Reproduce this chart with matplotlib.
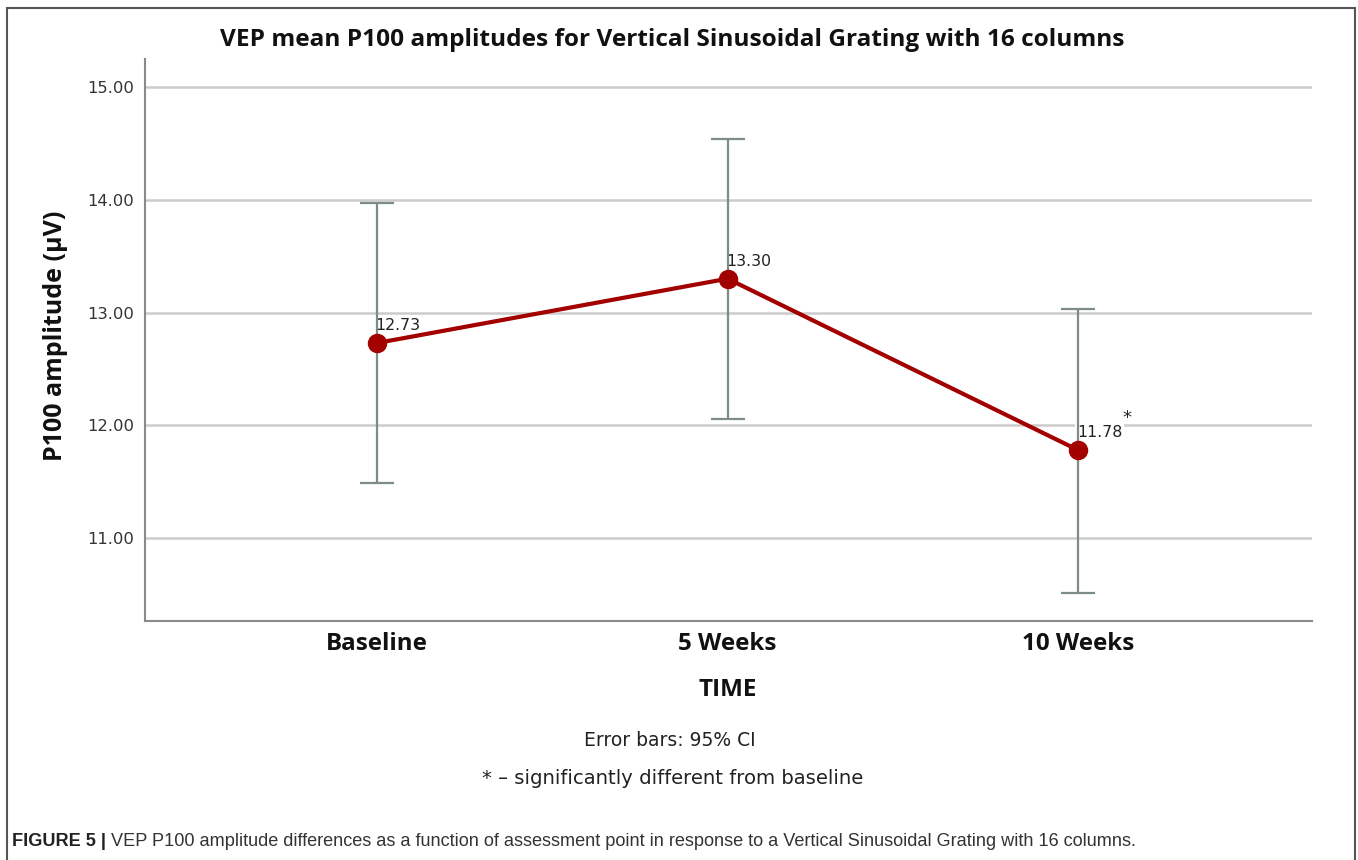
import matplotlib
matplotlib.use('Agg')
import matplotlib.pyplot as plt
from matplotlib.patches import Rectangle
from matplotlib import font_manager
import numpy as np

# P100 amplitude per assessment point, with 95% CI bounds
times = ['Baseline', '5 Weeks', '10 Weeks']
means = [12.73, 13.30, 11.78]
ci_low = [11.49, 12.06, 10.51]
ci_high = [13.97, 14.54, 13.03]
sig = ['', '', '*']
yticks = [11.0, 12.0, 13.0, 14.0, 15.0]

title = 'VEP mean P100 amplitudes for Vertical Sinusoidal Grating with 16 columns'
caption_head = 'FIGURE 5 | '
caption_body = ('VEP P100 amplitude differences as a function of assessment point in '
                'response to a Vertical Sinusoidal Grating with 16 columns.')

installed = {f.name for f in font_manager.fontManager.ttflist}
bold_font = 'Open Sans' if 'Open Sans' in installed else 'DejaVu Sans'
cap_font = 'Liberation Sans'

W, H = 1358, 860
fig = plt.figure(figsize=(W / 100, H / 100), dpi=100)
fig.patch.set_facecolor('white')

def px(x, y):
    # pixel position (from top-left) -> figure fraction
    return x / W, 1 - y / H

l, t = px(145, 59)
r, b = px(1312, 621)
ax = fig.add_axes([l, b, r - l, t - b])

x = np.arange(len(times))
yerr = [np.array(means) - np.array(ci_low), np.array(ci_high) - np.array(means)]

ax.errorbar(x, means, yerr=yerr, fmt='none', ecolor='#7d8c88', elinewidth=1.6,
            capsize=12.5, capthick=1.6, zorder=2)
ax.plot(x, means, color='#a30000', lw=3.0, marker='o', markersize=13, zorder=3)

for xi, m, s in zip(x, means, sig):
    # white box hides the gridline behind the value, error bar stays on top
    ax.annotate(f'{m:.2f}', (xi, m), xytext=(-1, 7), textcoords='offset points',
                ha='left', va='bottom', fontsize=11.3, color='#222222',
                bbox=dict(boxstyle='square,pad=0.1', fc='white', ec='none'), zorder=1.5)
    if s:
        ax.annotate(s, (xi, m), xytext=(32, 17), textcoords='offset points',
                    ha='left', va='bottom', fontsize=13, color='#222222', zorder=4)

ax.set_xlim(-0.662, 2.667)
ax.set_ylim(10.265, 15.248)
ax.set_yticks(yticks)
ax.set_yticklabels([f'{v:.2f}' for v in yticks], fontsize=11.8, color='#333333')
ax.set_xticks(x)
ax.set_xticklabels(times, fontsize=17.4, fontweight='bold', family=bold_font, color='#111111')
ax.tick_params(axis='both', length=0)
ax.tick_params(axis='y', pad=8)
ax.tick_params(axis='x', pad=8)

ax.grid(axis='y', color='#cccccc', lw=1.8, zorder=0)
ax.set_axisbelow(True)
for side in ['top', 'right']:
    ax.spines[side].set_visible(False)
for side in ['left', 'bottom']:
    ax.spines[side].set_color('#8a8a8a')
    ax.spines[side].set_linewidth(1.5)

fig.text(*px(672, 40), title, ha='center', va='center', fontsize=17.6,
         fontweight='bold', family=bold_font, color='#111111')
fig.text(*px(55, 336), 'P100 amplitude (µV)', ha='center', va='center', rotation=90,
         fontsize=18, fontweight='bold', family=bold_font, color='#111111')
fig.text(*px(728, 690), 'TIME', ha='center', va='center', fontsize=17.5,
         fontweight='bold', family=bold_font, color='#111111')
fig.text(*px(670, 740), 'Error bars: 95% CI', ha='center', va='center',
         fontsize=13.5, family='DejaVu Sans', color='#222222')
fig.text(*px(673, 779), '* \u2013 significantly different from baseline', ha='center',
         va='center', fontsize=14.1, family='DejaVu Sans', color='#222222')

# outer frame, open at the bottom
fig.patches.append(Rectangle(px(7, 900), (1355 - 7) / W, (900 - 8) / H,
                             transform=fig.transFigure, fill=False, ec='#555555',
                             lw=1.5, clip_on=False))

head = fig.text(*px(12, 842), caption_head, ha='left', va='center', fontsize=13.1,
                fontweight='bold', family=cap_font, color='#222222')
fig.canvas.draw()
bb = head.get_window_extent()
fig.text(bb.x1 / W, 1 - 842 / H, caption_body, ha='left', va='center', fontsize=13.1,
         family=cap_font, color='#333333')

plt.savefig('out.png', dpi=100, facecolor='white')
